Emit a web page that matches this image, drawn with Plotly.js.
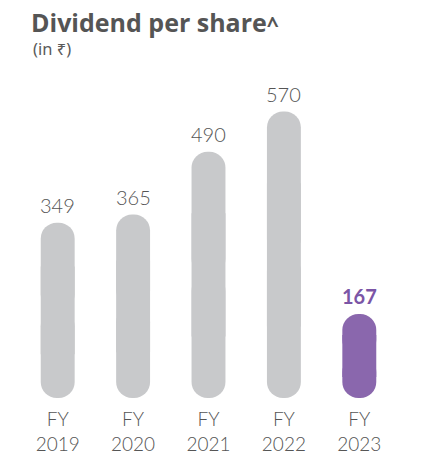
<!DOCTYPE html>
<html><head><meta charset="utf-8">
<script src="https://cdn.plot.ly/plotly-3.0.1.min.js"></script>
<style>html,body{margin:0;padding:0;background:#fff;}</style>
</head><body><div id="chart" style="width:424px;height:455px;"></div>
<script>
const categories = ['FY 2019','FY 2020','FY 2021','FY 2022','FY 2023'];
const tickLabels = ['FY<br>2019','FY<br>2020','FY<br>2021','FY<br>2022','FY<br>2023'];
const dividend = [349, 365, 490, 570, 167];
const barColors = ['#c8c9cb','#c8c9cb','#c8c9cb','#c8c9cb','#8a67ad'];
const labelColors = ['#555555','#555555','#555555','#555555','#7b55a6'];
const labelWeights = [300,300,300,300,700];

const half = dividend.map(v => v/2);
const W = 424, H = 455, mL = 20, mR = 27, mT = 80, mB = 57;
const pw = W - mL - mR, ph = H - mT - mB;

// rounded top half, rounded bottom half, and a square middle section joining them
const upper = {type:'bar', x:categories, y:dividend.map((v,i)=>v-half[i]), base:half,
  marker:{color:barColors, cornerradius:17}, hoverinfo:'skip'};
const lower = {type:'bar', x:categories, y:half.map(h=>-h), base:half,
  marker:{color:barColors, cornerradius:17}, hoverinfo:'skip'};
const middle = {type:'bar', x:categories, y:dividend.map(v=>v*0.5), base:dividend.map(v=>v*0.25),
  marker:{color:barColors}, hoverinfo:'skip'};

const annotations = categories.map((c,i)=>({x:c, y:dividend[i], xref:'x', yref:'y',
  text:String(dividend[i]), showarrow:false, yanchor:'bottom', yshift:4,
  font:{family:'Lato', size:20, color:labelColors[i], weight:labelWeights[i]}}));
annotations.push({xref:'paper', yref:'paper', x:(31-mL)/pw, y:1+(mT-48)/ph,
  xanchor:'left', yanchor:'middle', showarrow:false, text:'(in ₹)',
  font:{family:'Noto Sans', size:16.5, color:'#5a5a5a'}});

const layout = {
  width:W, height:H, margin:{l:mL, r:mR, t:mT, b:mB},
  paper_bgcolor:'#fff', plot_bgcolor:'#fff', showlegend:false,
  barmode:'overlay', bargap:0.55,
  title:{text:'Dividend per share<span style="font-size:21px">^</span>', xref:'container', yref:'container',
    x:31/W, xanchor:'left', y:1-23/H, yanchor:'middle',
    font:{family:'Open Sans', size:25, color:'#555555', weight:700}},
  xaxis:{type:'category', tickvals:categories, ticktext:tickLabels, showgrid:false, zeroline:false,
    showline:false, ticks:'', ticklabelstandoff:8,
    tickfont:{family:'Lato', size:19, color:'#555555', weight:300}, fixedrange:true},
  yaxis:{range:[0, ph/0.5025], visible:false, showgrid:false, zeroline:false, fixedrange:true},
  annotations:annotations
};
Plotly.newPlot('chart',[lower, upper, middle],layout,{displayModeBar:false, staticPlot:true});
</script></body></html>
